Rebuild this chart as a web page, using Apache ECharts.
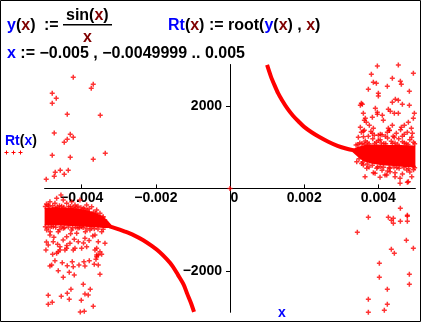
<!DOCTYPE html>
<html><head><meta charset="utf-8">
<script src="https://cdn.jsdelivr.net/npm/echarts@6/dist/echarts.min.js"></script>
<style>html,body{margin:0;padding:0;background:#fff}#c{width:421px;height:322px}</style>
</head><body><div id="c"></div>
<script>
// ---- data ----
const xTickValues = [-0.004, -0.002, 0, 0.002, 0.004];
const yTickValues = [-2000, 2000];

const curvePosX = [0.00100,0.00110,0.00120,0.00130,0.00140,0.00155,0.00170,0.00185,0.00200,0.00220,0.00240,0.00265,0.00290,0.00315,0.00335];
const curvePosY = [2990,2720,2500,2300,2140,1930,1760,1620,1490,1360,1250,1130,1030,960,920];
const curveNegX = [-0.00097,-0.00105,-0.00115,-0.00125,-0.00140,-0.00155,-0.00170,-0.00190,-0.00210,-0.00235,-0.00260,-0.00285,-0.00310,-0.00325];
const curveNegY = [-2990,-2780,-2560,-2330,-2100,-1880,-1720,-1540,-1400,-1250,-1130,-1040,-960,-920];

const bandRightUpper = [[0.00330,950],[0.00345,1010],[0.00370,1060],[0.00400,1060],[0.00430,1050],[0.00460,1050],[0.00500,1040]];
const bandRightLower = [[0.00500,520],[0.00470,520],[0.00440,540],[0.00410,560],[0.00380,600],[0.00360,660],[0.00345,760],[0.00330,880]];
const bandLeftUpper = [[-0.00500,-470],[-0.00470,-450],[-0.00440,-470],[-0.00410,-480],[-0.00380,-540],[-0.00350,-640],[-0.00330,-780],[-0.00320,-880]];
const bandLeftLower = [[-0.00320,-960],[-0.00340,-960],[-0.00370,-940],[-0.00400,-920],[-0.00430,-910],[-0.00460,-900],[-0.00500,-900]];

const leftUpperSparse = [[-0.004227,2690],[-0.003688,2520],[-0.003742,2423],[-0.004794,2302],[-0.004686,2181],[-0.004794,2060],[-0.004389,1794],[-0.003499,1770],[-0.004740,1341],[-0.004308,1310],[-0.004227,1237],[-0.004389,1189],[-0.004470,1116],[-0.004794,801],[-0.004308,753],[-0.003364,850],[-0.003688,704],[-0.004578,438],[-0.004362,438],[-0.004713,390],[-0.004470,341],[-0.004740,293],[-0.004956,220]];
const leftBandFringe = [[-0.004559,-159],[-0.004497,-281],[-0.004856,-322],[-0.004902,-402],[-0.004721,-361],[-0.004405,-361],[-0.004270,-322],[-0.004047,-281],[-0.003866,-402],[-0.003731,-443],[-0.004675,-240],[-0.004181,-402],[-0.003957,-482],[-0.003596,-523],[-0.003507,-603],[-0.003418,-685],[-0.004950,-380],[-0.004600,-420],[-0.004100,-430],[-0.003800,-490],[-0.004300,-440],
[-0.004980,-440],[-0.004880,-430],[-0.004780,-420],[-0.004660,-445],[-0.004540,-430],[-0.004480,-455],[-0.004350,-445],[-0.004230,-460],[-0.004150,-455],[-0.004020,-470],[-0.003920,-500],[-0.003850,-520],[-0.003680,-570],[-0.003620,-600],[-0.003450,-700],[-0.003380,-760],
[-0.004980,-930],[-0.004900,-950],[-0.004820,-925],[-0.004700,-940],[-0.004560,-930],[-0.004460,-950],[-0.004360,-935],[-0.004250,-960],[-0.004160,-940],[-0.004060,-955],[-0.003960,-945],[-0.003860,-970],[-0.003740,-960],[-0.003660,-980],[-0.003560,-985],[-0.003420,-990],
[-0.004945,-1007],[-0.004856,-1128],[-0.004767,-927],[-0.004632,-1048],[-0.004497,-966],[-0.004405,-1169],[-0.004270,-1007],[-0.004135,-1087],[-0.004001,-927],[-0.003912,-1208],[-0.003777,-1007],[-0.003642,-1128],[-0.003553,-1290],[-0.003461,-1048],[-0.003372,-1329],[-0.004902,-1370],[-0.004585,-1411],[-0.004316,-1329],[-0.004092,-1290],[-0.003866,-1411],[-0.003596,-1450],[-0.004767,-1290],[-0.004181,-1450],[-0.003507,-1532],[-0.003596,-1612],
[-0.004850,-1050],[-0.004600,-1000],[-0.004300,-1100],[-0.004100,-960],[-0.003900,-1050],[-0.003700,-1150],[-0.004500,-1250],[-0.004750,-1180],[-0.004200,-1230],[-0.003950,-1320],[-0.004650,-1350],[-0.003800,-1260],[-0.004950,-1300],[-0.004400,-1380]];
const leftLowerSparse = [[-0.004964,-1491],[-0.004783,-1595],[-0.004675,-1571],[-0.004632,-1532],[-0.004586,-1491],[-0.004451,-1491],[-0.004405,-1450],[-0.004227,-1491],[-0.004001,-1450],[-0.003642,-1491],[-0.003596,-1654],[-0.003615,-1716],[-0.003553,-1612],[-0.003461,-1595],[-0.004721,-1750],[-0.004856,-1879],[-0.004810,-1855],[-0.004524,-1799],[-0.004389,-1871],[-0.004254,-1775],[-0.004227,-1896],[-0.004073,-1855],[-0.003939,-1775],[-0.003912,-1879],[-0.003795,-1750],[-0.003661,-1838],[-0.003553,-1855],[-0.004632,-1992],[-0.004335,-2031],[-0.004200,-2097],[-0.004497,-2152],[-0.003507,-2080],[-0.003957,-2322],[-0.004289,-2443],[-0.003769,-2443],[-0.004389,-2540],[-0.003912,-2557],[-0.003823,-2581],[-0.004902,-2588],[-0.004551,-2612],[-0.004335,-2685],[-0.004011,-2709],[-0.004794,-2757],[-0.004902,-2806],[-0.003688,-2854],[-0.003930,-2975],[-0.004038,-2992]];

const rightUpperSparse = [[0.003974,2963],[0.004540,2987],[0.003812,2762],[0.004945,2787],[0.004378,2665],[0.003866,2569],[0.003947,2544],[0.004594,2593],[0.004621,2520],[0.004243,2472],[0.003731,2399],[0.004837,2351],[0.004001,2302],[0.004001,2237],[0.004459,2157],[0.003542,2060],[0.003569,2036],[0.003515,2012],[0.004378,2084],[0.004540,2133],[0.004648,2036],[0.004837,2012],[0.003920,1939],[0.004270,1915],[0.004324,1867],[0.004432,1818],[0.004540,1818],[0.003596,1818],[0.004972,1818],[0.003974,1842],[0.003974,1794],[0.004108,1770],[0.003650,1697],[0.003623,1649],[0.003839,1721],[0.004135,1649],[0.004945,1697],[0.003677,1600],[0.004810,1600],[0.003758,1528],[0.004378,1528],[0.004702,1528],[0.004891,1455],[0.003515,1479],[0.004621,1479],[0.003596,1382],[0.003542,1358],[0.003623,1407],[0.003866,1455],[0.004270,1455],[0.004297,1407],[0.004243,1358],[0.004783,1358],[0.004486,1334],[0.003839,1334],[0.003893,1286],[0.003461,1237],[0.003731,1261],[0.004001,1286],[0.004054,1310],[0.004648,1261],[0.004918,1334],[0.004189,1261],[0.004432,1237]];
const rightBandFringe = [[0.003500,1100],[0.003650,1150],[0.003750,1080],[0.003850,1200],[0.003950,1120],[0.004050,1180],[0.004150,1090],[0.004250,1220],[0.004350,1140],[0.004450,1100],[0.004550,1200],[0.004650,1130],[0.004750,1080],[0.004850,1180],[0.004950,1120],[0.003600,1250],[0.004100,1300],[0.004400,1260],[0.004700,1310],[0.004900,1240],[0.003800,1380],[0.004300,1400],[0.004600,1420],[0.003400,1050],[0.004000,1160],
[0.003450,1060],[0.003560,1090],[0.003700,1110],[0.003900,1090],[0.004080,1100],[0.004200,1080],[0.004380,1090],[0.004520,1070],[0.004700,1100],[0.004800,1060],[0.004980,1080],[0.003620,1070],
[0.003480,720],[0.003580,640],[0.003700,590],[0.003840,560],[0.003980,520],[0.004140,510],[0.004290,500],[0.004420,520],[0.004560,490],[0.004690,500],[0.004820,480],[0.004980,500],
[0.003642,283],[0.003866,380],[0.004181,324],[0.004451,380],[0.004586,123],[0.004810,162],[0.003418,646],[0.003596,567],[0.003957,487],[0.004316,487],[0.004767,445],[0.004945,525],[0.003912,366],[0.004046,269],[0.004227,324],[0.004451,283],[0.004586,245],[0.004783,148],[0.004902,283],[0.004316,404],[0.003688,487],[0.003750,520],[0.004100,440],[0.004500,500],[0.004850,400],[0.004050,530],[0.004650,350],[0.003550,600],[0.004950,450],[0.004250,420]];
const rightLowerSparse = [[0.004594,-482],[0.003731,-700],[0.004270,-700],[0.004405,-724],[0.004351,-772],[0.004405,-845],[0.004594,-797],[0.004783,-651],[0.004783,-675],[0.004783,-797],[0.003434,-1063],[0.004756,-1257],[0.004945,-1450],[0.004351,-1474],[0.004432,-1571],[0.004028,-1813],[0.004837,-2080],[0.004028,-2152],[0.004837,-2322],[0.004243,-2443],[0.003731,-2685],[0.004243,-2806],[0.004162,-2951],[0.003731,-3000]];
const originPoint = [[0, 0]];

// ---- chart ----
const RED = '#ff0000', BLUE = '#0000ff', DRED = '#800000';
const FONT = 'Liberation Sans, Arial, sans-serif';
const PLUS = 'path://M1.75,0H3.25V1.75H5V3.25H3.25V5H1.75V3.25H0V1.75H1.75Z';
const zip = (xs, ys) => xs.map((x, i) => [x, ys[i]]);
const fmtMinus = v => String(v).replace('-', '\u2212');

const GRID = {left: 44.6, right: 5.6, top: 64.5, bottom: 9.7};
const W = 421, H = 322;
const gridW = W - GRID.left - GRID.right, gridH = H - GRID.top - GRID.bottom;
// axes are drawn through the origin (x = 0, y = 0), which is the middle of the symmetric ranges
const yAxisOffset = -gridW / 2;
const xAxisOffset = -gridH / 2;

function polySeries(upper, lower) {
  const poly = upper.concat(lower);
  return {
    type: 'custom', coordinateSystem: 'cartesian2d', data: poly, encode: {x: 0, y: 1},
    clip: true, silent: true, z: 2,
    renderItem: (params, api) => {
      if (params.dataIndex !== 0) return null;
      return {type: 'polygon', shape: {points: poly.map(p => api.coord(p))}, style: {fill: RED}};
    }
  };
}
function scatter(data) {
  return {type: 'scatter', data, symbol: PLUS, symbolSize: 5, itemStyle: {color: RED}, silent: true, z: 3, clip: true};
}
function curve(data) {
  return {type: 'line', data, showSymbol: false, smooth: 0.3, lineStyle: {color: RED, width: 4}, silent: true, z: 3, clip: true};
}

const chart = echarts.init(document.getElementById('c'), null, {renderer: 'canvas'});
const richBase = {fontFamily: FONT, fontWeight: 'bold', fontSize: 16};
chart.setOption({
  animation: false,
  backgroundColor: '#fff',
  grid: {...GRID, outerBoundsMode: 'none'},
  xAxis: {
    type: 'value', min: -0.005, max: 0.005, position: 'bottom', offset: xAxisOffset,
    axisLine: {onZero: false, lineStyle: {color: '#000', width: 1}},
    axisTick: {customValues: xTickValues, inside: true, length: 4, lineStyle: {color: '#000'}},
    axisLabel: {customValues: xTickValues, color: '#000', fontSize: 14, fontWeight: 'bold', fontFamily: FONT, margin: 3,
      formatter: v => v === 0 ? '{z|0}' : fmtMinus(v),
      rich: {z: {padding: [0, 0, 0, 9], color: '#000', fontSize: 14, fontWeight: 'bold', fontFamily: FONT}}},
    splitLine: {show: false}
  },
  yAxis: {
    type: 'value', min: -3000, max: 3000, position: 'left', offset: yAxisOffset,
    axisLine: {onZero: false, lineStyle: {color: '#000', width: 1}},
    axisTick: {customValues: yTickValues, length: 4, lineStyle: {color: '#000'}},
    axisLabel: {customValues: yTickValues, color: '#000', fontSize: 14, fontWeight: 'bold', fontFamily: FONT, margin: 8, formatter: fmtMinus},
    splitLine: {show: false}
  },
  series: [
    polySeries(bandRightUpper, bandRightLower),
    polySeries(bandLeftUpper, bandLeftLower),
    curve(zip(curvePosX, curvePosY)),
    curve(zip(curveNegX, curveNegY)),
    scatter(leftUpperSparse), scatter(leftBandFringe), scatter(leftLowerSparse),
    scatter(rightUpperSparse), scatter(rightBandFringe), scatter(rightLowerSparse),
    scatter(originPoint)
  ],
  graphic: [
    {type: 'rect', shape: {x: 0.5, y: 0.5, width: 420, height: 321}, style: {fill: 'none', stroke: '#000', lineWidth: 1}, silent: true},
    {type: 'text', x: 7, y: 26, style: {text: '{b|y}{k|(}{r|x}{k|)}', textVerticalAlign: 'middle', rich: {b: {...richBase, fill: BLUE}, k: {...richBase, fill: '#000'}, r: {...richBase, fill: DRED}}}},
    {type: 'text', x: 44, y: 26, style: {text: ':=', textVerticalAlign: 'middle', font: 'bold 16px ' + FONT, fill: '#000'}},
    {type: 'text', x: 66, y: 16, style: {text: '{k|sin(}{r|x}{k|)}', textVerticalAlign: 'middle', rich: {k: {...richBase, fill: '#000'}, r: {...richBase, fill: DRED}}}},
    {type: 'rect', shape: {x: 63, y: 24, width: 49, height: 1.5}, style: {fill: '#000'}},
    {type: 'text', x: 87.5, y: 38, style: {text: 'x', textAlign: 'center', textVerticalAlign: 'middle', font: 'bold 16px ' + FONT, fill: DRED}},
    {type: 'text', x: 168, y: 26, style: {text: '{b|Rt}{k|(}{r|x}{k|) := root(}{b|y}{k|(}{r|x}{k|) , }{r|x}{k|)}', textVerticalAlign: 'middle', rich: {b: {...richBase, fill: BLUE}, k: {...richBase, fill: '#000'}, r: {...richBase, fill: DRED}}}},
    {type: 'text', x: 7, y: 54, style: {text: '{b|x}{k| := \u22120.005 , \u22120.0049999 .. 0.005}', textVerticalAlign: 'middle', rich: {b: {...richBase, fill: BLUE}, k: {...richBase, fill: '#000'}}}},
    {type: 'text', x: 5, y: 141, style: {text: '{b|Rt}{k|(}{b|x}{k|)}', textVerticalAlign: 'middle', rich: {b: {...richBase, fontSize: 14, fill: BLUE}, k: {...richBase, fontSize: 14, fill: '#000'}}}},
    {type: 'rect', shape: {x: 4.5, y: 152, width: 4, height: 1}, style: {fill: RED}},
    {type: 'rect', shape: {x: 6, y: 150.5, width: 1, height: 4}, style: {fill: RED}},
    {type: 'rect', shape: {x: 11.5, y: 152, width: 4, height: 1}, style: {fill: RED}},
    {type: 'rect', shape: {x: 13, y: 150.5, width: 1, height: 4}, style: {fill: RED}},
    {type: 'rect', shape: {x: 18.5, y: 152, width: 4, height: 1}, style: {fill: RED}},
    {type: 'rect', shape: {x: 20, y: 150.5, width: 1, height: 4}, style: {fill: RED}},
    {type: 'text', x: 282, y: 313, style: {text: 'x', textAlign: 'center', textVerticalAlign: 'middle', font: 'bold 14px ' + FONT, fill: BLUE}}
  ]
});
</script></body></html>
